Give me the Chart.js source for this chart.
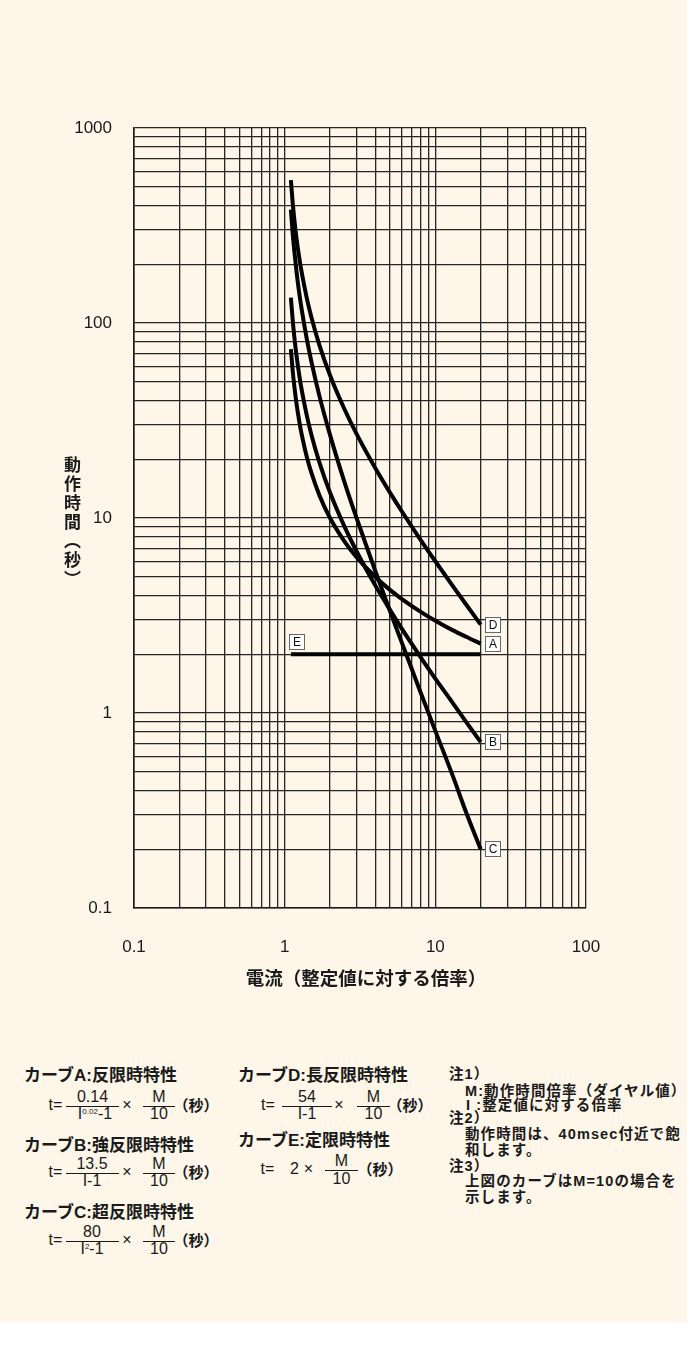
<!DOCTYPE html>
<html><head><meta charset="utf-8">
<script src="https://cdn.jsdelivr.net/npm/chart.js@4.4.1/dist/chart.umd.min.js"></script>
<style>
html,body{margin:0;padding:0;background:#fff;}
#page{position:absolute;left:0;top:0;width:687px;height:1322px;background:#fdf6e9;overflow:hidden;font-family:"Liberation Sans","Noto Sans CJK JP",sans-serif;color:#1a1a1a;}
#wrap{position:absolute;left:0;top:0;width:699px;height:1000px;}
.t{position:absolute;white-space:nowrap;transform:translateY(-50%);line-height:1;}
.c{position:absolute;white-space:nowrap;transform:translate(-50%,-50%);line-height:1;}
.bar{position:absolute;height:1.4px;background:#1a1a1a;}
.h{font-size:17px;font-weight:700;}
.f{font-size:16px;font-weight:400;}
.k{font-family:"Noto Sans CJK JP",sans-serif;font-size:15px;font-weight:700;}
.n{font-size:14.5px;font-weight:700;letter-spacing:1.1px;}
.sup{font-size:8px;vertical-align:5px;}
#ytitle{position:absolute;left:64px;top:456px;writing-mode:vertical-rl;font-family:"Noto Sans CJK JP",sans-serif;font-size:17px;font-weight:700;letter-spacing:2px;line-height:17px;}
#xtitle{position:absolute;left:366px;top:977px;transform:translate(-50%,-50%);font-family:"Noto Sans CJK JP",sans-serif;font-size:18.5px;font-weight:700;white-space:nowrap;line-height:1;}
</style></head>
<body>
<div id="page">
<div id="wrap"><canvas id="c" width="699" height="1000"></canvas></div>
<div id="ytitle">動作時間（秒）</div>
<div id="xtitle">電流（整定値に対する倍率）</div>

<!-- column 1 -->
<div class="t h" style="left:24px;top:1075px">カーブA:反限時特性</div>
<div class="c f" style="left:55.5px;top:1105px">t=</div>
<div class="bar" style="left:66px;top:1105.5px;width:53px"></div>
<div class="c f" style="left:92.5px;top:1097px">0.14</div>
<div class="c f" style="left:95px;top:1114px">I<span class="sup">0.02</span>-1</div>
<div class="c f" style="left:127px;top:1105px">×</div>
<div class="bar" style="left:143px;top:1105.5px;width:32px"></div>
<div class="c f" style="left:159px;top:1097px">M</div>
<div class="c f" style="left:159px;top:1114px">10</div>
<div class="c k" style="left:196px;top:1104px">（秒）</div>

<div class="t h" style="left:24px;top:1145px">カーブB:強反限時特性</div>
<div class="c f" style="left:55.5px;top:1172px">t=</div>
<div class="bar" style="left:66px;top:1172.5px;width:53px"></div>
<div class="c f" style="left:92px;top:1164px">13.5</div>
<div class="c f" style="left:92px;top:1181px">I-1</div>
<div class="c f" style="left:127px;top:1172px">×</div>
<div class="bar" style="left:143px;top:1172.5px;width:32px"></div>
<div class="c f" style="left:159px;top:1164px">M</div>
<div class="c f" style="left:159px;top:1181px">10</div>
<div class="c k" style="left:196px;top:1171px">（秒）</div>

<div class="t h" style="left:24px;top:1212px">カーブC:超反限時特性</div>
<div class="c f" style="left:55.5px;top:1240px">t=</div>
<div class="bar" style="left:66px;top:1240.5px;width:53px"></div>
<div class="c f" style="left:92px;top:1232px">80</div>
<div class="c f" style="left:92px;top:1249px">I<span class="sup">2</span>-1</div>
<div class="c f" style="left:127px;top:1240px">×</div>
<div class="bar" style="left:143px;top:1240.5px;width:32px"></div>
<div class="c f" style="left:159px;top:1232px">M</div>
<div class="c f" style="left:159px;top:1249px">10</div>
<div class="c k" style="left:196px;top:1239px">（秒）</div>

<!-- column 2 -->
<div class="t h" style="left:238px;top:1075px">カーブD:長反限時特性</div>
<div class="c f" style="left:268px;top:1105px">t=</div>
<div class="bar" style="left:282px;top:1105.5px;width:50px"></div>
<div class="c f" style="left:307px;top:1097px">54</div>
<div class="c f" style="left:307px;top:1114px">I-1</div>
<div class="c f" style="left:339px;top:1105px">×</div>
<div class="bar" style="left:357px;top:1105.5px;width:33px"></div>
<div class="c f" style="left:373.5px;top:1097px">M</div>
<div class="c f" style="left:373.5px;top:1114px">10</div>
<div class="c k" style="left:410px;top:1104px">（秒）</div>

<div class="t h" style="left:238px;top:1140px">カーブE:定限時特性</div>
<div class="c f" style="left:267.5px;top:1169px">t=</div>
<div class="c f" style="left:294.5px;top:1169px">2</div>
<div class="c f" style="left:308.5px;top:1169px">×</div>
<div class="bar" style="left:325px;top:1170px;width:33px"></div>
<div class="c f" style="left:341.5px;top:1161px">M</div>
<div class="c f" style="left:341.5px;top:1179px">10</div>
<div class="c k" style="left:380px;top:1168px">（秒）</div>

<!-- notes -->
<div class="t n" style="left:449px;top:1074px">注1）</div>
<div class="t n" style="left:465px;top:1091px">M:動作時間倍率（ダイヤル値）</div>
<div class="t n" style="left:466px;top:1105px">I :整定値に対する倍率</div>
<div class="t n" style="left:449px;top:1118px">注2）</div>
<div class="t n" style="left:465px;top:1134px">動作時間は、40msec付近で飽</div>
<div class="t n" style="left:465px;top:1150px">和します。</div>
<div class="t n" style="left:449px;top:1166px">注3）</div>
<div class="t n" style="left:465px;top:1181px">上図のカーブはM=10の場合を</div>
<div class="t n" style="left:465px;top:1197px">示します。</div>
</div>

<script>
// ---- data ----
const currentI = [1.1, 1.13, 1.16, 1.2, 1.25, 1.3, 1.4, 1.5, 1.7, 2, 2.5, 3, 4, 5, 6, 8, 10, 13, 16, 20];
const curveA = [73.4, 57.2, 47.1, 38.3, 31.3, 26.6, 20.7, 17.2, 13.1, 10.0, 7.57, 6.30, 4.98, 4.28, 3.84, 3.30, 2.97, 2.66, 2.46, 2.27];
const curveB = [135, 104, 84.4, 67.5, 54, 45, 33.8, 27, 19.3, 13.5, 9.0, 6.75, 4.5, 3.38, 2.7, 1.93, 1.5, 1.13, 0.90, 0.71];
const curveC = [381, 289, 232, 182, 142, 116, 83.3, 64, 42.3, 26.7, 15.2, 10, 5.33, 3.33, 2.29, 1.27, 0.81, 0.48, 0.31, 0.20];
const curveD = [540, 415, 338, 270, 216, 180, 135, 108, 77.1, 54, 36, 27, 18, 13.5, 10.8, 7.71, 6.0, 4.5, 3.6, 2.84];
const curveE_I = [1.1, 20];
const curveE = [2, 2];
const curveNames = ['A', 'B', 'C', 'D', 'E'];
const xTickValues = [0.1, 1, 10, 100];
const xTickLabels = ['0.1', '1', '10', '100'];
const yTickValues = [0.1, 1, 10, 100, 1000];
const yTickLabels = ['0.1', '1', '10', '100', '1000'];
const gridMantissas = [1, 2, 3, 4, 5, 6, 7, 8, 9];

function gridValues(decades) {
  const out = [];
  for (let i = 0; i < decades.length - 1; i++) {
    gridMantissas.forEach(m => out.push(m * decades[i]));
  }
  out.push(decades[decades.length - 1]);
  return out;
}
function labelFor(v, values, labels) {
  for (let i = 0; i < values.length; i++) {
    if (Math.abs(Math.log10(v) - Math.log10(values[i])) < 1e-6) return labels[i];
  }
  return '';
}
const pts = (xs, ys) => xs.map((x, i) => ({x: x, y: ys[i]}));

const boxLabels = {
  id: 'boxLabels',
  afterDatasetsDraw(chart) {
    const ctx = chart.ctx;
    const sx = chart.scales.x, sy = chart.scales.y;
    ctx.save();
    ctx.font = '12px "Liberation Sans", Arial, sans-serif';
    ctx.textAlign = 'center';
    ctx.textBaseline = 'middle';
    chart.data.datasets.forEach(ds => {
      const isE = ds.label === 'E';
      const p = isE ? ds.data[0] : ds.data[ds.data.length - 1];
      const px = sx.getPixelForValue(p.x), py = sy.getPixelForValue(p.y);
      let bx, by;
      if (isE) { bx = Math.round(px) - 1.5; by = Math.round(py) - 19.5; }
      else { bx = Math.round(px) + 4.5; by = Math.round(py) - 7.5; }
      ctx.fillStyle = '#ffffff';
      ctx.fillRect(bx, by, 15, 15);
      ctx.strokeStyle = '#666';
      ctx.lineWidth = 1;
      ctx.strokeRect(bx, by, 15, 15);
      ctx.fillStyle = '#111';
      ctx.fillText(ds.label, bx + 7.5, by + 8);
    });
    ctx.restore();
  }
};

Chart.defaults.font.family = '"Liberation Sans", Arial, sans-serif';

new Chart(document.getElementById('c'), {
  type: 'line',
  data: {
    datasets: [
      {label: curveNames[0], data: pts(currentI, curveA)},
      {label: curveNames[1], data: pts(currentI, curveB)},
      {label: curveNames[2], data: pts(currentI, curveC)},
      {label: curveNames[3], data: pts(currentI, curveD)},
      {label: curveNames[4], data: pts(curveE_I, curveE)}
    ]
  },
  options: {
    responsive: false,
    animation: false,
    devicePixelRatio: 1,
    layout: {padding: {left: 0, right: 113, top: 128, bottom: 0}},
    plugins: {legend: {display: false}, tooltip: {enabled: false}},
    elements: {
      point: {radius: 0},
      line: {borderWidth: 4, borderColor: '#000', cubicInterpolationMode: 'monotone', borderCapStyle: 'butt', fill: false}
    },
    scales: {
      x: {
        type: 'logarithmic', min: 0.1, max: 100,
        afterBuildTicks: s => { s.ticks = gridValues(xTickValues).map(v => ({value: v})); },
        afterFit: s => { s.height = 92; },
        grid: {color: '#262626', lineWidth: 1.3, drawTicks: false},
        border: {color: '#1a1a1a', width: 1.6},
        ticks: {autoSkip: false, maxRotation: 0, minRotation: 0, padding: 29, color: '#1a1a1a', font: {size: 17},
          callback: v => labelFor(v, xTickValues, xTickLabels)}
      },
      y: {
        type: 'logarithmic', min: 0.1, max: 1000,
        afterBuildTicks: s => { s.ticks = gridValues(yTickValues).map(v => ({value: v})); },
        afterFit: s => { s.width = 134; },
        grid: {color: '#262626', lineWidth: 1.3, drawTicks: false},
        border: {color: '#1a1a1a', width: 1.6},
        ticks: {autoSkip: false, padding: 22, color: '#1a1a1a', font: {size: 17},
          callback: v => labelFor(v, yTickValues, yTickLabels)}
      }
    }
  },
  plugins: [boxLabels]
});
</script>
</body></html>
